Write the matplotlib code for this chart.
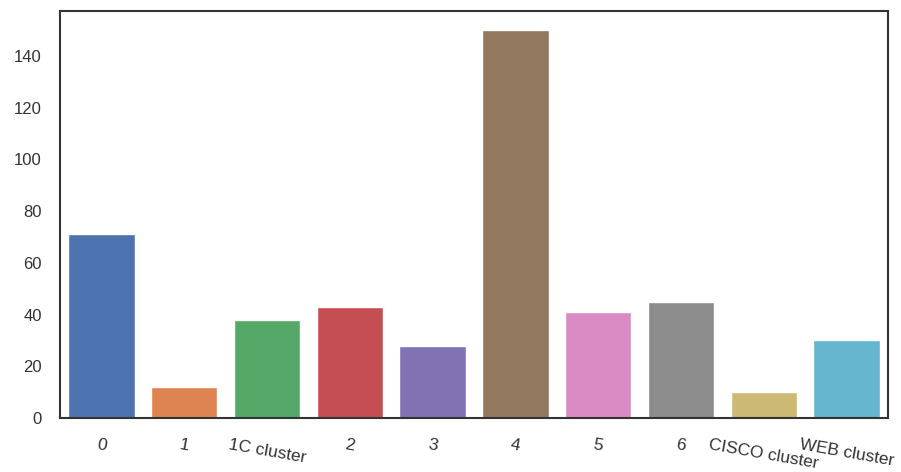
import matplotlib
matplotlib.use('Agg')
import matplotlib.pyplot as plt
import seaborn as sns

# Cluster sizes
categories = ['0', '1', '1C cluster', '2', '3', '4', '5', '6', 'CISCO cluster', 'WEB cluster']
counts = [71, 12, 38, 43, 28, 150, 41, 45, 10, 30]

sns.set_theme(style='white')
plt.rcParams['font.family'] = ['Liberation Sans', 'DejaVu Sans']

fig = plt.figure(figsize=(9.01, 4.72), dpi=100)
ax = fig.add_axes([60 / 901, 1 - 418 / 472, 828 / 901, 407.5 / 472])

palette = sns.color_palette('deep', len(categories))
ax.bar(range(len(categories)), counts, width=0.8, color=palette)
ax.set_xlim(-0.5, len(categories) - 0.5)
ax.set_ylim(0, max(counts) * 1.05)

ax.set_xticks(range(len(categories)))
ax.set_xticklabels(categories, rotation=-10, fontsize=12.5, color='#333333')
ax.set_yticks(range(0, 141, 20))
ax.tick_params(axis='y', labelsize=12, colors='#333333', pad=13)
ax.tick_params(axis='x', pad=14)
ax.tick_params(length=0)

for s in ax.spines.values():
    s.set_color('#333333')
    s.set_linewidth(1.5)

fig.savefig('out.png', dpi=100)
